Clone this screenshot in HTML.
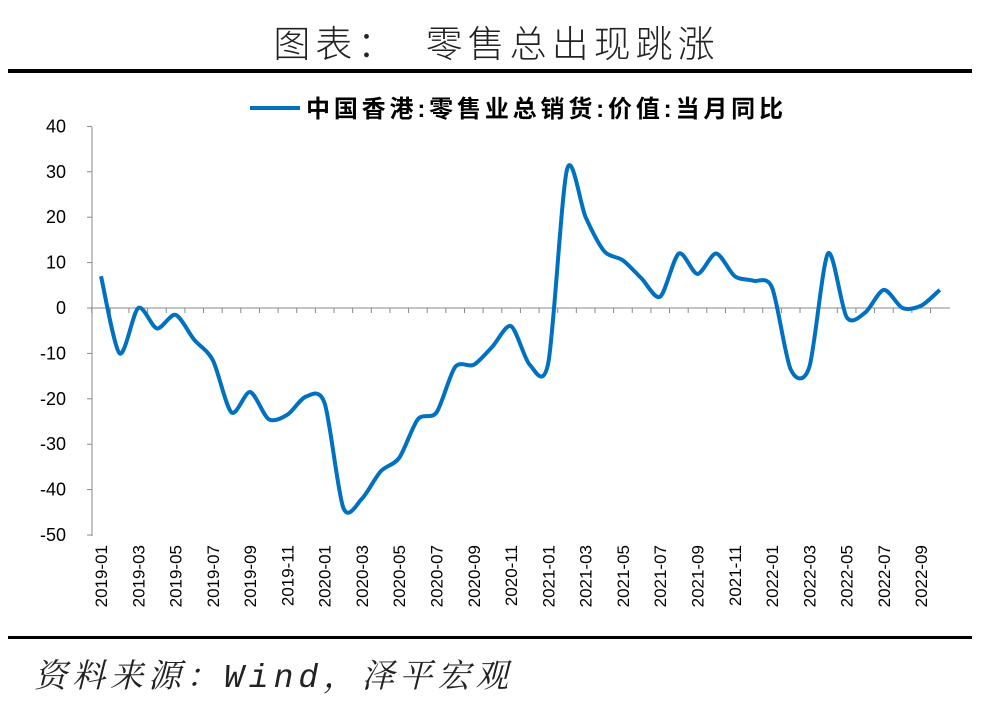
<!DOCTYPE html>
<html><head><meta charset="utf-8"><style>
body{margin:0;background:#fff;width:993px;height:712px;overflow:hidden;position:relative;font-family:"Liberation Sans","Noto Sans CJK SC",sans-serif}
.title{position:absolute;top:14px;left:0;width:993px;text-align:center;font-size:37px;font-family:"Noto Sans CJK SC",sans-serif;font-weight:300;color:#222;letter-spacing:5px}
.src{position:absolute;top:650px;left:34px;font-size:33px;font-style:italic;color:#222;font-family:"Liberation Mono","Noto Serif CJK SC",serif;letter-spacing:5px}
</style></head><body>
<div class="title">图表：&nbsp;&nbsp;零售总出现跳涨</div>
<svg width="993" height="712" style="position:absolute;left:0;top:0">
<rect x="8" y="69" width="964" height="4" fill="#000"/>
<rect x="8" y="636" width="964" height="3" fill="#000"/>
<line x1="250" y1="108" x2="300" y2="108" stroke="#0070C0" stroke-width="4"/>
<text x="306" y="117" font-size="24" font-weight="bold" textLength="477" lengthAdjust="spacing" font-family="Liberation Sans,Noto Sans CJK SC,sans-serif" fill="#000">中国香港:零售业总销货:价值:当月同比</text>
<g id="ax" font-size="18" fill="#000" font-family="Liberation Sans,sans-serif"></g>
<path id="p" fill="none" stroke="#0070C0" stroke-width="4" stroke-linejoin="round"/>
</svg>
<div class="src">资料来源：Wind，泽平宏观</div>
<script>
var d=[7,-10,0,-4.5,-1.5,-7,-11.5,-23,-18.5,-24.5,-23.5,-19.5,-21,-44,-42,-36,-33,-24.5,-23,-13,-12.5,-8.5,-4,-12.5,-12,30.5,20,12.5,10.5,6.5,2.5,12,7.5,12,7,6,4.5,-13.5,-13,12,-2,-1,4,0,0.5,4];
function X(i){return 101+i*18.64}function Y(v){return 308-v*4.54}
var g=document.getElementById('ax'),s='';
s+='<line x1="92" y1="127" x2="92" y2="536" stroke="#888" stroke-width="1"/>';
s+='<line x1="92" y1="308" x2="950" y2="308" stroke="#888" stroke-width="1"/>';
for(var v=40;v>=-50;v-=10){var y=Y(v);s+='<line x1="87" y1="'+y+'" x2="92" y2="'+y+'" stroke="#888"/><text x="66" y="'+(y+6)+'" text-anchor="end">'+v+'</text>';}
for(var i=0;i<46;i++){var x=X(i)-9.3;s+='<line x1="'+x+'" y1="308" x2="'+x+'" y2="313" stroke="#888"/>';}
for(var i=0;i<46;i+=2){var yr=2019+Math.floor(i/12),m=i%12+1;var x=X(i);s+='<text transform="translate('+(x+6)+',545) rotate(-90)" text-anchor="end" font-size="17">'+yr+'-'+(m<10?'0':'')+m+'</text>';}
g.innerHTML=s;
var P=d.map(function(v,i){return[X(i),Y(v)]});
var t=0.14;
var p='M'+P[0][0]+','+P[0][1];
for(var i=0;i<P.length-1;i++){var a=P[Math.max(i-1,0)],b=P[i],c=P[i+1],e=P[Math.min(i+2,P.length-1)];
p+=' C'+(b[0]+(c[0]-a[0])*t)+','+(b[1]+(c[1]-a[1])*t)+' '+(c[0]-(e[0]-b[0])*t)+','+(c[1]-(e[1]-b[1])*t)+' '+c[0]+','+c[1];}
document.getElementById('p').setAttribute('d',p);
</script>
</body></html>
